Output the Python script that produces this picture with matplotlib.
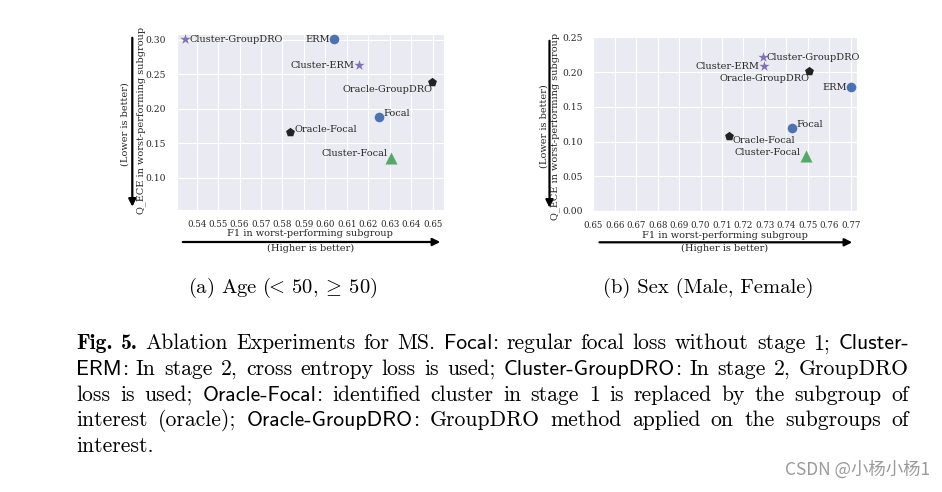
import matplotlib
matplotlib.use("Agg")
import matplotlib.pyplot as plt
import seaborn as sns

# ---------------- data ----------------
methods = ["Focal", "ERM", "Cluster-ERM", "Cluster-GroupDRO",
           "Oracle-Focal", "Oracle-GroupDRO", "Cluster-Focal"]
age_f1 = [0.6249, 0.6041, 0.6157, 0.5345, 0.5836, 0.6496, 0.6304]
age_qece = [0.1885, 0.3005, 0.2627, 0.3005, 0.1660, 0.2380, 0.1290]
sex_f1 = [0.7426, 0.7701, 0.7297, 0.7293, 0.7134, 0.7504, 0.7490]
sex_qece = [0.1200, 0.1780, 0.2090, 0.2216, 0.1080, 0.2020, 0.0785]

age_xticks = [0.54, 0.55, 0.56, 0.57, 0.58, 0.59, 0.60, 0.61, 0.62, 0.63, 0.64, 0.65]
age_yticks = [0.10, 0.15, 0.20, 0.25, 0.30]
sex_xticks = [0.65, 0.66, 0.67, 0.68, 0.69, 0.70, 0.71, 0.72, 0.73, 0.74, 0.75, 0.76, 0.77]
sex_yticks = [0.00, 0.05, 0.10, 0.15, 0.20, 0.25]

subcaptions = [r"(a) Age ($\!\!<\!$ 50, $\!\geq\!$ 50)", "(b) Sex (Male, Female)"]
xlabel = "F1 in worst-performing subgroup"
ylabel = "Q_ECE in worst-performing subgroup"
xnote = "(Higher is better)"
ynote = "(Lower is better)"
watermark = "CSDN @小杨小杨1"

# ---------------- styles ----------------
marker_of = {"Focal": "o", "ERM": "o", "Cluster-ERM": "*", "Cluster-GroupDRO": "*",
             "Oracle-Focal": "p", "Oracle-GroupDRO": "p", "Cluster-Focal": "^"}
color_of = {"o": "#4C72B0", "*": "#8172B3", "p": "#222222", "^": "#55A868"}
size_of = {"o": 48, "*": 60, "p": 45, "^": 75}

# annotation offsets (points) and alignment, per panel
age_offsets = {"Focal": ((3.4, 2.0), "left"), "ERM": ((-3.0, 0), "right"),
               "Cluster-ERM": ((-3.5, 0), "right"), "Cluster-GroupDRO": ((3.0, 0), "left"),
               "Oracle-Focal": ((3.4, 2.2), "left"), "Oracle-GroupDRO": ((0.5, -5.3), "right"),
               "Cluster-Focal": ((-2.4, 2.9), "right")}
sex_offsets = {"Focal": ((3.4, 2.0), "left"), "ERM": ((-3.0, 0), "right"),
               "Cluster-ERM": ((-3.6, -0.7), "right"), "Cluster-GroupDRO": ((2.4, 0), "left"),
               "Oracle-Focal": ((2.2, -3.6), "left"), "Oracle-GroupDRO": ((0.5, -5.5), "right"),
               "Cluster-Focal": ((-3.6, 2.6), "right")}

sns.set_style("darkgrid")
plt.rcParams["font.family"] = ["DejaVu Serif"]
plt.rcParams["mathtext.fontset"] = "cm"

W, H = 942, 492
fig = plt.figure(figsize=(W / 100, H / 100), dpi=100)
renderer = fig.canvas.get_renderer()


def fx(px):
    return px / W


def fy(py):
    return 1 - py / H


def make_axes(x0, x1, ytop, ybot):
    return fig.add_axes([fx(x0), fy(ybot), fx(x1) - fx(x0), fy(ytop) - fy(ybot)])


panels = [
    dict(ax=make_axes(176.7, 444.0, 33.5, 210.0), f1=age_f1, q=age_qece,
         xt=age_xticks, yt=age_yticks, xlim=(0.5307, 0.6553), ylim=(0.0535, 0.3087),
         offs=age_offsets, yarrow=(132.3, 35, 209.5), ylab=(141.5, 120), ynote=(125.5, 124),
         xarrow=(180, 443, 242), xcenter=310.3, xlab_y=234, xnote_y=248,
         sub=(283, 288)),
    dict(ax=make_axes(593.3, 856.7, 37.3, 211.0), f1=sex_f1, q=sex_qece,
         xt=sex_xticks, yt=sex_yticks, xlim=(0.65, 0.7728), ylim=(0.0, 0.25),
         offs=sex_offsets, yarrow=(549.5, 38, 210.5), ylab=(555.2, 126.5), ynote=(544.0, 126),
         xarrow=(596.7, 855, 242.3), xcenter=725, xlab_y=235, xnote_y=248.5,
         sub=(708, 288)),
]

for i, p in enumerate(panels):
    ax = p["ax"]
    for name, xv, yv in zip(methods, p["f1"], p["q"]):
        m = marker_of[name]
        ax.scatter([xv], [yv], marker=m, s=size_of[m], color=color_of[m],
                   linewidths=0, zorder=3)
        (dx, dy), ha = p["offs"][name]
        ax.annotate(name, (xv, yv), xytext=(dx, dy), textcoords="offset points",
                    ha=ha, va="center", fontsize=7, color="#262626", zorder=4)
    ax.set_xlim(*p["xlim"])
    ax.set_ylim(*p["ylim"])
    ax.set_xticks(p["xt"])
    ax.set_xticklabels(["%.2f" % v for v in p["xt"]])
    ax.set_yticks(p["yt"])
    ax.set_yticklabels(["%.2f" % v for v in p["yt"]])
    ax.tick_params(axis="x", labelsize=6.2, colors="#262626", pad=4)
    ax.tick_params(axis="y", labelsize=6.6, colors="#262626", pad=4)

    # y axis label, arrow and note
    xa, ya0, ya1 = p["yarrow"]
    fig.text(fx(p["ylab"][0]), fy(p["ylab"][1]), ylabel, rotation=90, ha="center",
             va="center", fontsize=7, color="#262626")
    fig.text(fx(p["ynote"][0]), fy(p["ynote"][1]), ynote, rotation=90, ha="center",
             va="center", fontsize=7, color="#262626")
    fig.patches.append(matplotlib.patches.FancyArrowPatch(
        (fx(xa), fy(ya0)), (fx(xa), fy(ya1)), transform=fig.transFigure,
        arrowstyle="-|>", mutation_scale=11, lw=1.6, color="black"))

    # x axis label, arrow and note
    xa0, xa1, yb = p["xarrow"]
    fig.text(fx(p["xcenter"]), fy(p["xlab_y"]), xlabel, ha="center", va="center",
             fontsize=7, color="#262626")
    fig.text(fx(p["xcenter"]), fy(p["xnote_y"]), xnote, ha="center", va="center",
             fontsize=7, color="#262626")
    fig.patches.append(matplotlib.patches.FancyArrowPatch(
        (fx(xa0), fy(yb)), (fx(xa1), fy(yb)), transform=fig.transFigure,
        arrowstyle="-|>", mutation_scale=11, lw=1.6, color="black"))

    # subcaption
    sx, sy = p["sub"]
    fig.text(fx(sx), fy(sy + 5), subcaptions[i], ha="center", va="baseline",
             fontsize=14.8, family="cmr10", color="black")

# ---------------- caption (justified) ----------------
R, B, S = "cmr10", "cmb10", "cmss10"
cap_lines = [
    [[("Fig.", B)], [("5.", B)], [("Ablation", R)], [("Experiments", R)], [("for", R)],
     [("MS.", R)], [("Focal", S), (":", R)], [("regular", R)], [("focal", R)], [("loss", R)],
     [("without", R)], [("stage", R)], [("1;", R)], [("Cluster-", S)]],
    [[("ERM", S), (":", R)], [("In", R)], [("stage", R)], [("2,", R)], [("cross", R)],
     [("entropy", R)], [("loss", R)], [("is", R)], [("used;", R)],
     [("Cluster-GroupDRO", S), (":", R)], [("In", R)], [("stage", R)], [("2,", R)],
     [("GroupDRO", R)]],
    [[("loss", R)], [("is", R)], [("used;", R)], [("Oracle-Focal", S), (":", R)],
     [("identified", R)], [("cluster", R)], [("in", R)], [("stage", R)], [("1", R)],
     [("is", R)], [("replaced", R)], [("by", R)], [("the", R)], [("subgroup", R)], [("of", R)]],
    [[("interest", R)], [("(oracle);", R)], [("Oracle-GroupDRO", S), (":", R)],
     [("GroupDRO", R)], [("method", R)], [("applied", R)], [("on", R)], [("the", R)],
     [("subgroups", R)], [("of", R)]],
    [[("interest.", R)]],
]
cap_left, cap_right = 76.0, 909.0
cap_baselines = [349.3, 375.0, 400.7, 426.5, 452.3]
cap_size = 15.6


def word_width(word):
    w = 0.0
    for txt, fam in word:
        t = fig.text(0, 0, txt, fontsize=cap_size, family=fam)
        w += t.get_window_extent(renderer).width
        t.remove()
    return w


for li, (line, base) in enumerate(zip(cap_lines, cap_baselines)):
    widths = [word_width(wd) for wd in line]
    if li < len(cap_lines) - 1 and len(line) > 1:
        gap = (cap_right - cap_left - sum(widths)) / (len(line) - 1)
    else:
        gap = 6.5
    x = cap_left
    for wd, ww in zip(line, widths):
        xx = x
        for txt, fam in wd:
            t = fig.text(fx(xx), fy(base), txt, fontsize=cap_size, family=fam,
                         ha="left", va="baseline", color="black")
            xx += t.get_window_extent(renderer).width
        x += ww + gap

fig.text(fx(930), fy(470), watermark, ha="right", va="center", fontsize=12.5,
         color="#9a9a9a", family=["Noto Sans CJK SC", "DejaVu Sans"])

fig.savefig("out.png", dpi=100)
